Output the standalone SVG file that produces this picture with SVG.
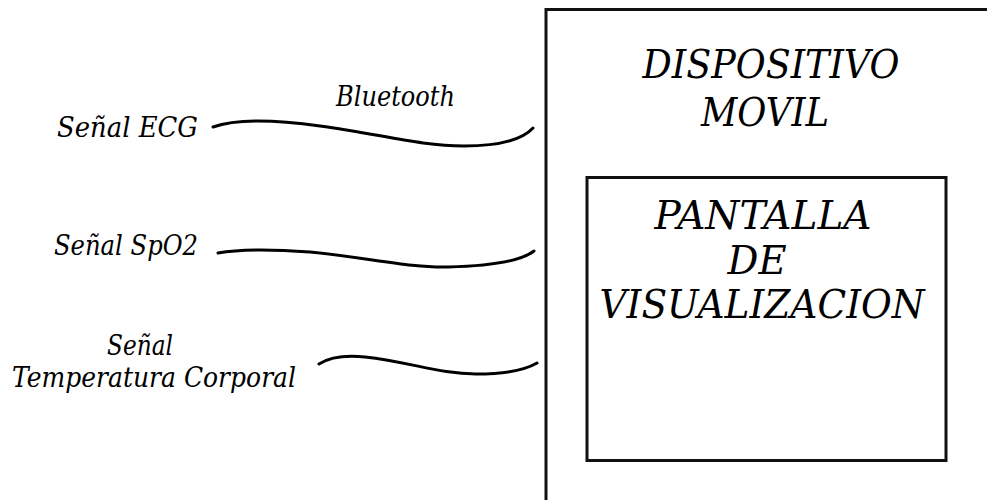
<svg xmlns="http://www.w3.org/2000/svg" width="987" height="500" viewBox="0 0 987 500">
<style>
text{font-family:"DejaVu Serif","Liberation Serif",serif;font-style:italic;fill:#000}
.lbl{font-size:27px}
.big{font-size:40px}
.box{fill:none;stroke:#111;stroke-width:3}
.wire{fill:none;stroke:#000;stroke-width:3;stroke-linecap:round}
</style>
<rect width="987" height="500" fill="#fff"/>
<g id="dispositivo">
<path class="box" d="M546,502 L546,9.5 L990,9.5"/>
<text class="big" x="771" y="78" text-anchor="middle" textLength="257" lengthAdjust="spacingAndGlyphs">DISPOSITIVO</text>
<text class="big" x="765" y="126" text-anchor="middle" textLength="128" lengthAdjust="spacingAndGlyphs">MOVIL</text>
</g>
<g id="pantalla">
<rect class="box" x="587" y="177.5" width="359" height="283"/>
<text class="big" x="763" y="229" text-anchor="middle" textLength="217" lengthAdjust="spacingAndGlyphs">PANTALLA</text>
<text class="big" x="757" y="274" text-anchor="middle" textLength="59" lengthAdjust="spacingAndGlyphs">DE</text>
<text class="big" x="762" y="318" text-anchor="middle" textLength="325" lengthAdjust="spacingAndGlyphs">VISUALIZACION</text>
</g>
<g id="ecg">
<text class="lbl" x="57" y="137" textLength="141" lengthAdjust="spacingAndGlyphs">Señal ECG</text>
</g>
<g id="spo2">
<text class="lbl" x="54" y="255" textLength="144" lengthAdjust="spacingAndGlyphs">Señal SpO2</text>
</g>
<g id="temp">
<text class="lbl" x="173" y="355" text-anchor="end" textLength="66" lengthAdjust="spacingAndGlyphs">Señal</text>
<text class="lbl" x="12" y="387" textLength="284" lengthAdjust="spacingAndGlyphs">Temperatura Corporal</text>
</g>
<g id="connectors">
<text class="lbl" x="336" y="106" textLength="119" lengthAdjust="spacingAndGlyphs">Bluetooth</text>
<path class="wire" d="M213,127 C235,119 270,119 320,126 C380,134 420,146 464,146 C500,146 522,140 533,128"/>
<path class="wire" d="M218,253 C240,249 270,249 310,252 C370,258 410,268 448,267 C490,266 520,262 534,251"/>
<path class="wire" d="M319,364 C330,357 345,355 365,357 C410,362 440,374 476,374 C505,374 525,370 537,363"/>
</g>
</svg>
